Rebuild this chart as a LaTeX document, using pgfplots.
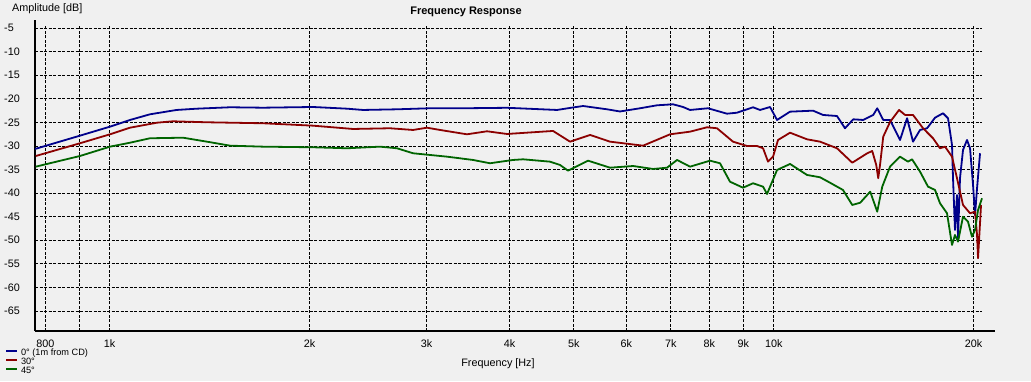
\documentclass[border=0pt]{standalone}
\usepackage{pgfplots}
\pgfplotsset{compat=1.18}
\usepackage{fontspec}
\setmainfont{Liberation Sans}
\definecolor{bg}{HTML}{F0F0F0}
\definecolor{cblue}{HTML}{00008B}
\definecolor{cred}{HTML}{8B0000}
\definecolor{cgreen}{HTML}{006400}
\begin{document}
\begin{tikzpicture}
\fill[bg] (0pt,0pt) rectangle (1031pt,381pt);
\useasboundingbox (0pt,0pt) rectangle (1031pt,381pt);
\begin{axis}[
  at={(35pt,50pt)}, anchor=south west,
  scale only axis, width=947pt, height=305pt,
  xmode=log, xmin=772, xmax=20590, ymin=-69.24, ymax=-4.58,
  clip=false,
  axis lines=left,
  axis line style={-, line width=2.5pt, black},
  x axis line style={shorten >=-13pt},
  y axis line style={shorten >=-6pt},
  major tick length=0pt, minor tick length=0pt,
  minor xtick={},
  xtick={800,900,1000,2000,3000,4000,5000,6000,7000,8000,9000,10000,20000},
  xticklabels={800,,1k,2k,3k,4k,5k,6k,7k,8k,9k,10k,20k},
  ytick={-65,-60,-55,-50,-45,-40,-35,-30,-25,-20,-15,-10,-5},
  yticklabels={-65,-60,-55,-50,-45,-40,-35,-30,-25,-20,-15,-10,-5},
  grid=major,
  major grid style={black, line width=0.8pt, dash pattern=on 3pt off 1.5pt},
  xticklabel style={anchor=base, inner sep=0pt, yshift=-16.7pt, font=\fontsize{10.8}{12}\selectfont},
  yticklabel style={anchor=west, inner sep=0pt, xshift=-31pt, font=\fontsize{10.8}{12}\selectfont},
  legend style={at={(rel axis cs:-0.0317,-0.0603)}, anchor=north west, draw=none, fill=none,
    inner sep=0pt, outer sep=0pt, row sep=0pt, column sep=3pt,
    font=\fontsize{9.2}{10}\selectfont,
    nodes={inner sep=0pt, text height=6.6pt, text depth=2.4pt, anchor=west}},
  legend cell align=left,
  legend image code/.code={\draw[#1, line width=2pt] (0pt,3pt) -- (11pt,3pt);},
  every axis plot/.append style={line width=1.8pt, line join=round},
]
\addplot[cblue] coordinates {
(772,-30.65) (902,-27.83) (1001,-25.92) (1073,-24.50) (1150,-23.30) (1261,-22.38)
(1352,-22.11) (1518,-21.81) (1702,-21.90) (2024,-21.75) (2278,-22.11) (2407,-22.38)
(2708,-22.24) (3036,-22.02) (3405,-22.02) (3966,-21.92) (4717,-22.38) (4986,-21.85)
(5163,-21.54) (5610,-22.24) (5869,-22.70) (6291,-22.02) (6673,-21.39) (7054,-21.18)
(7303,-21.75) (7481,-22.38) (7962,-22.02) (8504,-23.17) (8804,-22.96) (9307,-21.81)
(9535,-22.38) (9873,-21.75) (10115,-24.50) (10582,-22.74) (11459,-22.53) (11864,-23.44)
(12452,-23.66) (12802,-26.26) (13174,-24.36) (13638,-24.50) (14120,-23.44) (14317,-22.02)
(14618,-24.50) (14967,-24.50) (15496,-28.74) (15877,-24.14) (16210,-29.10) (16608,-26.62)
(17016,-26.26) (17494,-24.02) (17986,-23.08) (18301,-24.14) (18556,-29.80) (18621,-36.80)
(18750,-47.82) (18881,-40.40) (18946,-49.52) (19078,-36.80) (19278,-30.86) (19547,-28.74)
(19752,-30.50) (19958,-38.28) (20097,-44.64) (20237,-38.98) (20448,-31.56)
};
\addlegendentry{0° (1m from CD)}
\addplot[cred] coordinates {
(774,-32.14) (902,-29.44) (1001,-27.54) (1073,-26.14) (1178,-25.08) (1245,-24.78)
(1401,-24.99) (1702,-25.20) (2024,-25.71) (2325,-26.41) (2643,-26.26) (2863,-26.62)
(3005,-26.14) (3144,-26.62) (3452,-27.54) (3700,-26.90) (3966,-27.47) (4652,-26.83)
(4934,-29.10) (5290,-27.68) (5669,-29.10) (6357,-29.95) (6981,-27.54) (7481,-26.98)
(7935,-26.05) (8214,-26.26) (8683,-29.10) (9115,-30.02) (9437,-30.02) (9636,-30.50)
(9804,-33.34) (9976,-32.28) (10150,-28.74) (10582,-27.20) (11223,-28.60) (11741,-29.10)
(12452,-30.50) (13129,-33.56) (13829,-31.56) (14071,-31.08) (14268,-34.04) (14367,-36.86)
(14467,-33.68) (14618,-28.04) (14967,-24.93) (15442,-22.38) (15767,-23.44) (16210,-23.44)
(16782,-26.26) (17373,-28.38) (17800,-30.50) (18111,-30.16) (18556,-32.28) (18881,-36.86)
(19278,-42.52) (19752,-44.28) (20097,-43.94) (20237,-48.88) (20307,-53.82) (20519,-42.52)
};
\addlegendentry{30°}
\addplot[cgreen] coordinates {
(774,-34.40) (902,-32.14) (1001,-30.16) (1073,-29.32) (1150,-28.38) (1290,-28.26)
(1401,-29.10) (1518,-29.95) (1702,-30.16) (2024,-30.29) (2278,-30.50) (2553,-30.16)
(2708,-30.50) (2863,-31.56) (3221,-32.28) (3525,-32.98) (3739,-33.68) (4050,-32.98)
(4193,-32.84) (4604,-33.34) (4766,-34.04) (4900,-35.25) (5253,-33.13) (5669,-34.62)
(6140,-34.26) (6581,-34.89) (6908,-34.62) (7152,-32.98) (7481,-34.40) (8017,-33.13)
(8300,-33.68) (8593,-37.59) (8989,-38.86) (9307,-37.92) (9636,-38.64) (9770,-40.19)
(10115,-35.10) (10582,-33.83) (11223,-36.16) (11741,-36.65) (12153,-37.80) (12713,-39.34)
(13129,-42.52) (13497,-42.04) (13973,-39.70) (14317,-43.94) (14568,-38.64) (14967,-34.40)
(15496,-32.28) (15932,-33.34) (16154,-32.84) (16608,-35.46) (17075,-38.64) (17494,-39.34)
(17800,-42.16) (18237,-44.28) (18556,-51.00) (18750,-48.88) (18946,-50.30) (19278,-45.01)
(19615,-46.06) (19889,-49.25) (20097,-47.82) (20307,-43.59) (20590,-41.10)
};
\addlegendentry{45°}
\end{axis}
\node[anchor=base, font=\bfseries\fontsize{11}{13}\selectfont] at (466pt,366.4pt) {Frequency Response};
\node[anchor=base west, inner sep=0pt, font=\fontsize{10.8}{12}\selectfont] at (12pt,369.7pt) {Amplitude [dB]};
\node[anchor=base, inner sep=0pt, font=\fontsize{10.8}{12}\selectfont] at (498pt,15pt) {Frequency [Hz]};
\end{tikzpicture}
\end{document}
